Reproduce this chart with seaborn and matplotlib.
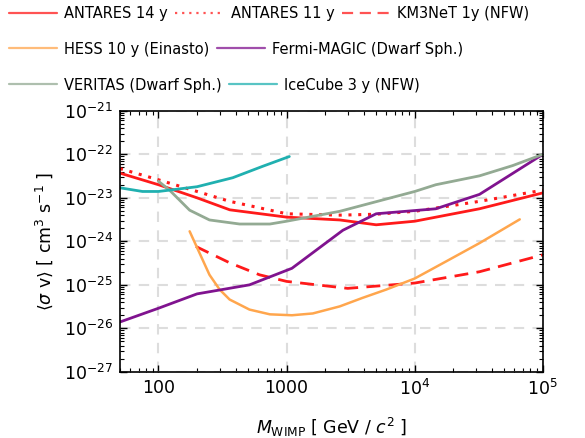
import matplotlib
matplotlib.use("Agg")
import matplotlib.pyplot as plt
import matplotlib.ticker as mticker
import seaborn as sns
import pandas as pd
import numpy as np
from matplotlib.lines import Line2D

sns.set_style("ticks")
plt.rcParams['font.family'] = ['DejaVu Sans']
plt.rcParams['mathtext.fontset'] = 'dejavusans'
plt.rcParams['text.color'] = 'black'

# ---- data ----
ant14_m = [50, 100, 200, 360, 1000, 2600, 5000, 10000, 32000, 100000]
ant14_sv = [3.7e-23, 2.0e-23, 1.0e-23, 5.3e-24, 3.6e-24, 3.1e-24, 2.4e-24, 2.9e-24, 5.6e-24, 1.3e-23]

ant11_m = [50, 100, 200, 360, 1000, 2600, 5000, 10000, 32000, 100000]
ant11_sv = [4.7e-23, 2.6e-23, 1.4e-23, 8.3e-24, 4.3e-24, 4.0e-24, 4.2e-24, 4.9e-24, 8.3e-24, 1.5e-23]

km3_m = [196, 360, 615, 1000, 3000, 10000, 32000, 100000]
km3_sv = [7.6e-25, 3.2e-25, 1.7e-25, 1.2e-25, 8.3e-26, 1.1e-25, 2.0e-25, 4.9e-25]

hess_m = [175, 209, 250, 300, 359, 513, 740, 1100, 1600, 2600, 3900, 6000, 10000, 17700, 32000, 66000]
hess_sv = [1.7e-24, 5.4e-25, 1.7e-25, 7.8e-26, 4.6e-26, 2.7e-26, 2.1e-26, 2.0e-26, 2.2e-26, 3.2e-26,
           5.0e-26, 7.8e-26, 1.4e-25, 3.5e-25, 9.1e-25, 3.2e-24]

fermi_m = [50, 100, 200, 513, 1100, 2750, 5000, 14600, 32000, 100000]
fermi_sv = [1.4e-26, 2.9e-26, 6.2e-26, 1.0e-25, 2.4e-25, 1.8e-24, 4.3e-24, 5.6e-24, 1.2e-23, 1.0e-22]

veritas_m = [100, 122, 175, 250, 430, 740, 1000, 2600, 10000, 14600, 32000, 58000, 100000]
veritas_sv = [2.4e-23, 1.5e-23, 5.2e-24, 3.1e-24, 2.5e-24, 2.5e-24, 2.9e-24, 4.9e-24, 1.4e-23, 2.0e-23,
              3.2e-23, 5.5e-23, 1.0e-22]

ice_m = [50, 75, 100, 200, 380, 650, 1050]
ice_sv = [1.7e-23, 1.4e-23, 1.4e-23, 1.8e-23, 2.9e-23, 5.3e-23, 8.9e-23]

labels = ["ANTARES 14 y", "ANTARES 11 y", "KM3NeT 1y (NFW)", "HESS 10 y (Einasto)",
          "Fermi-MAGIC (Dwarf Sph.)", "VERITAS (Dwarf Sph.)", "IceCube 3 y (NFW)"]

series = [(ant14_m, ant14_sv), (ant11_m, ant11_sv), (km3_m, km3_sv), (hess_m, hess_sv),
          (fermi_m, fermi_sv), (veritas_m, veritas_sv), (ice_m, ice_sv)]
colors = ["#ff1a1a", "#ff1a1a", "#ff1a1a", "#ffa64d", "#80138f", "#93aa93", "#20b0b0"]
styles = ["-", (0, (1, 2.2)), (0, (5, 3)), "-", "-", "-", "-"]
widths = [2.0, 2.2, 2.0, 1.8, 2.0, 2.0, 2.0]

fig = plt.figure(figsize=(5.85, 4.38), dpi=100)
ax = fig.add_axes([0.205, 0.151, 0.723, 0.596])

handles = []
for (m, sv), lab, c, ls, lw in zip(series, labels, colors, styles, widths):
    df = pd.DataFrame({"m": m, "sv": sv})
    sns.lineplot(data=df, x="m", y="sv", ax=ax, color=c, linestyle=ls, linewidth=lw,
                 sort=False, estimator=None)
    handles.append(Line2D([], [], color=c, linestyle=ls, linewidth=1.6, alpha=0.75, label=lab))

ax.set_xscale("log")
ax.set_yscale("log")
ax.set_xlim(50, 1e5)
ax.set_ylim(1e-27, 1e-21)
ax.set_xticks([100, 1000, 1e4, 1e5])
ax.set_xticklabels(["100", "1000", r"$10^{4}$", r"$10^{5}$"])
ax.set_yticks([10.0**k for k in range(-27, -20)])
ax.set_yticklabels([r"$10^{%d}$" % k for k in range(-27, -20)])
xminor = [s * 10.0**k for k in range(1, 5) for s in range(2, 10)]
xminor = [v for v in xminor if 50 <= v <= 1e5]
yminor = [s * 10.0**k for k in range(-27, -21) for s in range(2, 10)]
ax.xaxis.set_minor_locator(mticker.FixedLocator(xminor))
ax.yaxis.set_minor_locator(mticker.FixedLocator(yminor))
ax.xaxis.set_minor_formatter(mticker.NullFormatter())
ax.yaxis.set_minor_formatter(mticker.NullFormatter())
ax.tick_params(which="both", direction="in", top=True, right=True, labelsize=12.5,
               color="black", labelcolor="black")
ax.tick_params(which="major", length=5, width=1, pad=5)
ax.tick_params(which="minor", length=3, width=0.8)
ax.grid(True, which="major", linestyle=(0, (5, 4)), color="#dddddd", linewidth=1.5)
ax.grid(False, which="minor")
ax.set_axisbelow(True)
for s in ax.spines.values():
    s.set_color("black")
    s.set_linewidth(1.2)

ax.set_xlabel(r"$M_{\mathrm{WIMP}}$ [ GeV / $c^2$ ]", fontsize=12.5, labelpad=12, color="black")
ax.set_ylabel(r"$\langle\sigma$ v$\rangle$ [ cm$^3$ s$^{-1}$ ]", fontsize=12.5, labelpad=6, color="black")

rows = [(handles[0:3], 1.006), (handles[3:5], 0.925), (handles[5:7], 0.843)]
for hs, y in rows:
    leg = fig.legend(handles=hs, loc="upper left", bbox_to_anchor=(0.0, y), ncol=len(hs),
                     frameon=False, fontsize=10.5, handlelength=3.3, columnspacing=0.5,
                     handletextpad=0.5, borderaxespad=0.2)

fig.savefig("out.png", dpi=100)
